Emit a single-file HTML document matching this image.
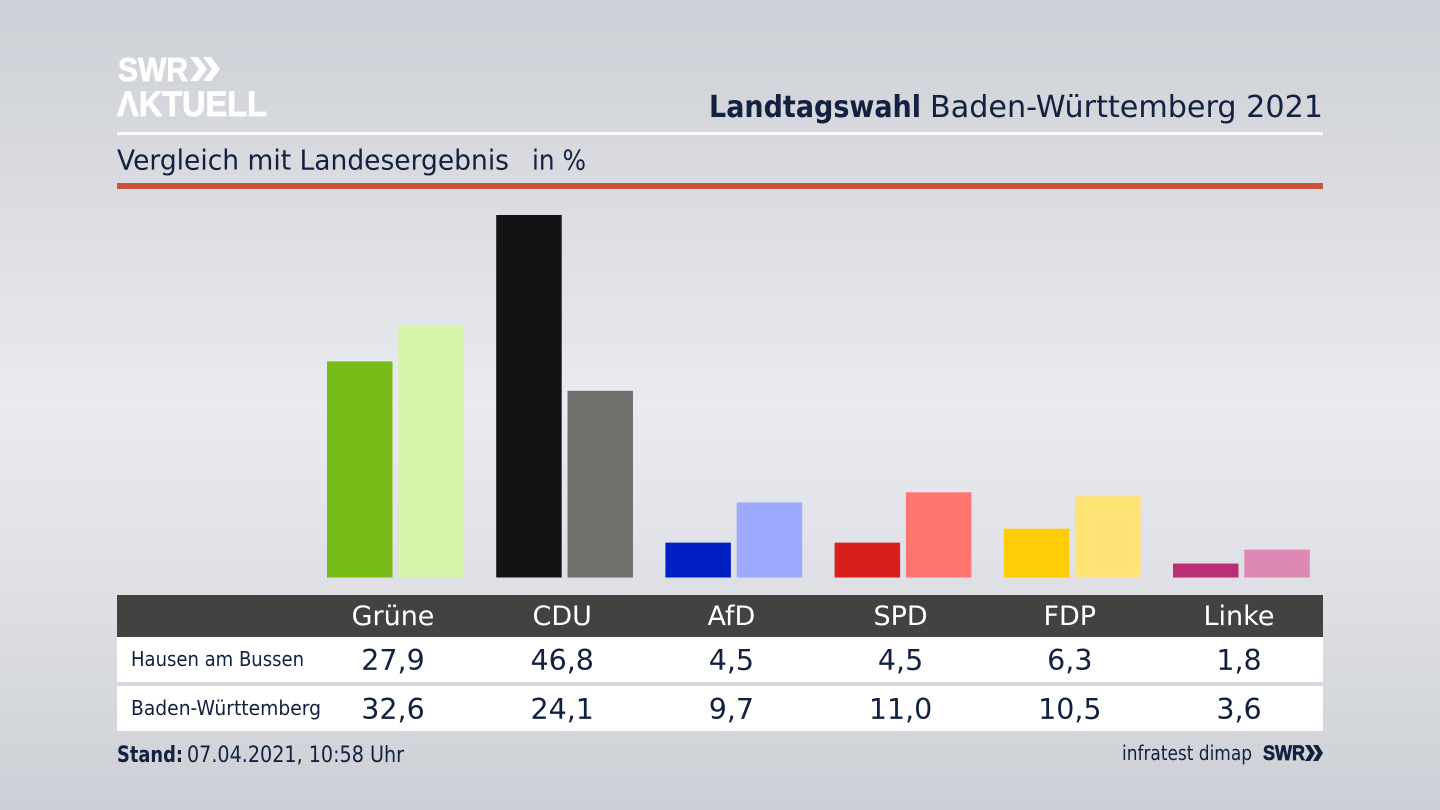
<!DOCTYPE html>
<html lang="de">
<head>
<meta charset="utf-8">
<title>Landtagswahl Baden-Württemberg 2021</title>
<style>
html,body{margin:0;padding:0;width:1440px;height:810px;overflow:hidden;background:#dfe1e6}
svg{display:block}
text{font-family:"DejaVu Sans","Liberation Sans",sans-serif;fill:#11213f}
.lab{fill:#fff}
</style>
</head>
<body>
<svg id="chart" xmlns="http://www.w3.org/2000/svg" width="1440" height="810" viewBox="0 0 1440 810">
  <defs>
    <linearGradient id="bg" x1="0" y1="0" x2="0" y2="1">
      <stop offset="0" stop-color="#cdd0d6"/>
      <stop offset="0.22" stop-color="#d9dbe0"/>
      <stop offset="0.5" stop-color="#e9ebf0"/>
      <stop offset="0.78" stop-color="#dbdde2"/>
      <stop offset="1" stop-color="#cccfd5"/>
    </linearGradient>
  </defs>
  <rect x="0" y="0" width="1440" height="810" fill="url(#bg)"/>

  <g>
    <text x="118" y="81" class="lab" font-size="33" font-weight="700" textLength="70" lengthAdjust="spacingAndGlyphs" stroke="#fff" stroke-width="0.8" style="font-family:'Liberation Sans',sans-serif">SWR</text>
    <path d="M190 57h8l9 12-9 12h-8l9-12zM203 57h8l9 12-9 12h-8l9-12z" fill="#fff"/>
    <text x="117" y="116" class="lab" font-size="35" font-weight="700" textLength="150" lengthAdjust="spacingAndGlyphs" stroke="#fff" stroke-width="0.8" style="font-family:'Liberation Sans',sans-serif">ΛKTUELL</text>
  </g>

  <text x="709" y="117" font-size="30" font-weight="700" textLength="212" lengthAdjust="spacingAndGlyphs">Landtagswahl</text>
  <text x="930" y="117" font-size="30" textLength="393" lengthAdjust="spacingAndGlyphs">Baden-Württemberg 2021</text>
  <rect x="117" y="132" width="1206" height="3" fill="#ffffff"/>
  <text x="117" y="169.5" font-size="28" textLength="392" lengthAdjust="spacingAndGlyphs">Vergleich mit Landesergebnis</text>
  <text x="532" y="169.5" font-size="28" textLength="54" lengthAdjust="spacingAndGlyphs">in %</text>
  <rect x="117" y="183" width="1206" height="6" fill="#cb553b"/>

  <g id="bars"></g>

  <rect x="117" y="595" width="1206" height="42" fill="#424241"/>
  <rect x="117" y="637" width="1206" height="45" fill="#ffffff"/>
  <rect x="117" y="686" width="1206" height="45" fill="#ffffff"/>
  <text x="131" y="666" font-size="20" textLength="173" lengthAdjust="spacingAndGlyphs">Hausen am Bussen</text>
  <text x="131" y="715" font-size="20" textLength="190" lengthAdjust="spacingAndGlyphs">Baden-Württemberg</text>
  <g id="cells"></g>

  <text x="117" y="762" font-size="22" font-weight="700" textLength="66" lengthAdjust="spacingAndGlyphs">Stand:</text>
  <text x="187" y="762" font-size="22" textLength="217" lengthAdjust="spacingAndGlyphs">07.04.2021, 10:58 Uhr</text>
  <text x="1122" y="760" font-size="20" textLength="130" lengthAdjust="spacingAndGlyphs">infratest dimap</text>
  <text x="1263" y="760" font-size="21" font-weight="700" textLength="42" lengthAdjust="spacingAndGlyphs" stroke="#11213f" stroke-width="0.7" style="font-family:'Liberation Sans',sans-serif">SWR</text>
  <path d="M1305 745h5l5 8-5 8h-5l5-8zM1313 745h5l5 8-5 8h-5l5-8z" fill="#11213f"/>
</svg>
<script>
const parties = ['Grüne', 'CDU', 'AfD', 'SPD', 'FDP', 'Linke'];
const localValues = [27.9, 46.8, 4.5, 4.5, 6.3, 1.8];
const stateValues = [32.6, 24.1, 9.7, 11.0, 10.5, 3.6];
const localColors = ['#78bc19', '#131313', '#0020c4', '#d71f1d', '#ffcc08', '#bc2d77'];
const stateColors = ['#d6f5a8', '#73716e', '#9dabff', '#ff7570', '#ffe374', '#de88b6'];

const NS = 'http://www.w3.org/2000/svg';
const barsGroup = document.getElementById('bars');
const cellsGroup = document.getElementById('cells');
const baselineY = 577.5;
const pxPerPercent = 362.5 / 46.8;
const barWidth = 65.5;
function xCenter(i) { return 393 + i * 169.2; }
function yScale(v) { return baselineY - v * pxPerPercent; }
function fmt(v) { return v.toFixed(1).replace('.', ','); }

function addBar(x, v, color, name) {
  const r = document.createElementNS(NS, 'rect');
  r.setAttribute('x', x);
  r.setAttribute('y', yScale(v));
  r.setAttribute('width', barWidth);
  r.setAttribute('height', baselineY - yScale(v));
  r.setAttribute('fill', color);
  
  
  barsGroup.appendChild(r);
}
function addCell(x, y, size, str, color, name) {
  const t = document.createElementNS(NS, 'text');
  t.setAttribute('x', x);
  t.setAttribute('y', y);
  t.setAttribute('font-size', size);
  t.setAttribute('text-anchor', 'middle');
  t.setAttribute('fill', color);
  t.style.fill = color;
  t.textContent = str;
  
  
  cellsGroup.appendChild(t);
}
parties.forEach(function (p, i) {
  const c = xCenter(i);
  const key = p.toLowerCase();
  addBar(c - 66, localValues[i], localColors[i], 'bar-local-' + key);
  addBar(c + 5.3, stateValues[i], stateColors[i], 'bar-state-' + key);
  addCell(c, 625, 27, p, '#ffffff', 'header-' + key);
  addCell(c, 670, 28.5, fmt(localValues[i]), '#11213f', 'value-local-' + key);
  addCell(c, 719, 28.5, fmt(stateValues[i]), '#11213f', 'value-state-' + key);
});
</script>
</body>
</html>
